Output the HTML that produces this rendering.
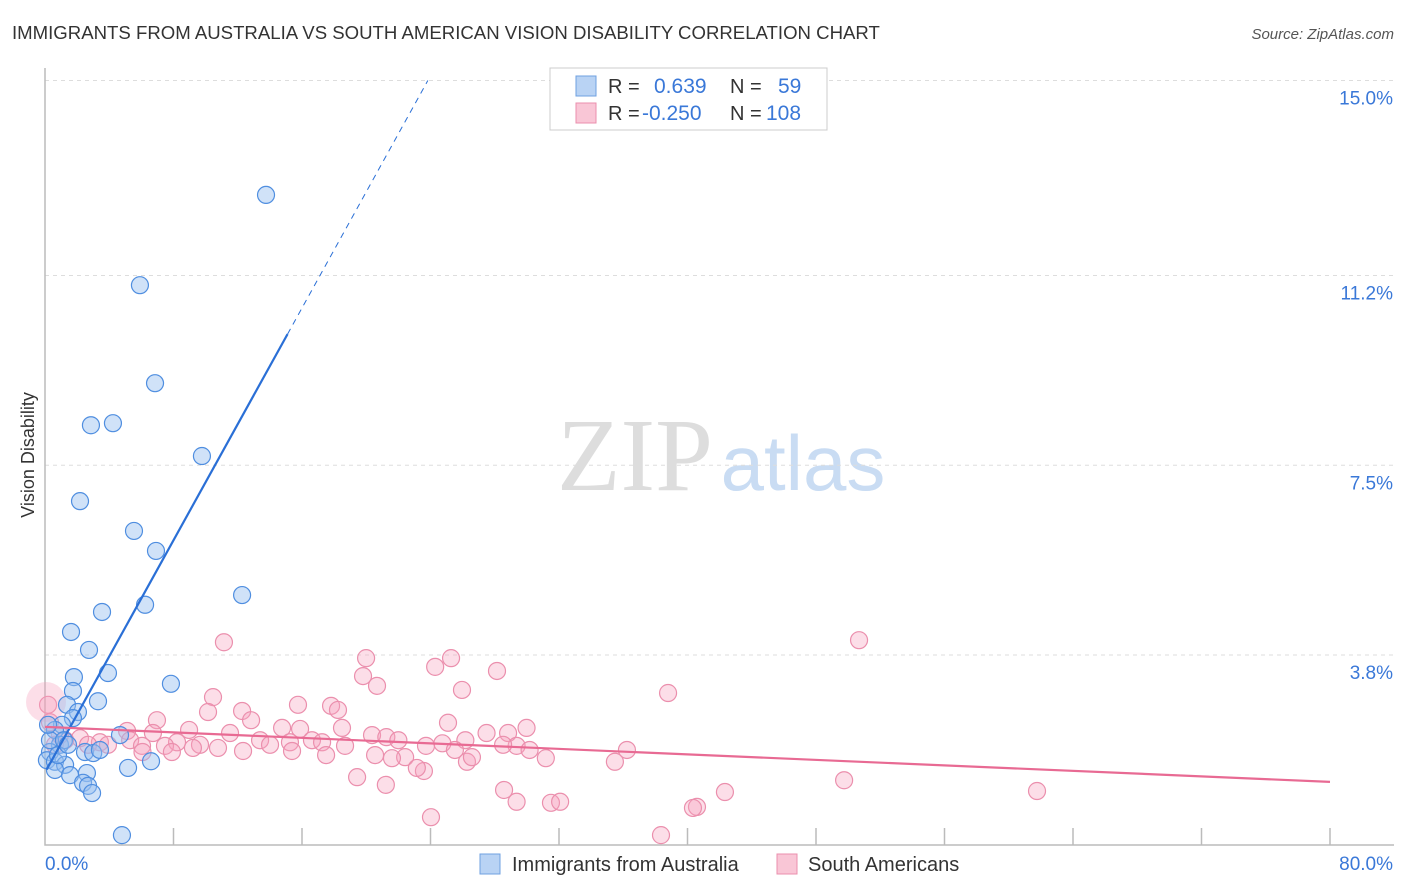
<!DOCTYPE html>
<html><head><meta charset="utf-8"><style>
body{margin:0;background:#fff;font-family:"Liberation Sans",sans-serif;overflow:hidden;}
#c{position:relative;width:1406px;height:892px;overflow:hidden;}
</style></head><body>
<div id="c">
<svg id="s" width="1406" height="892">
<text x="12" y="39" font-size="18.6" fill="#333">IMMIGRANTS FROM AUSTRALIA VS SOUTH AMERICAN VISION DISABILITY CORRELATION CHART</text>
<text x="1394" y="39" font-size="15" fill="#555" text-anchor="end" font-style="italic">Source: ZipAtlas.com</text>
<text x="635" y="490" font-size="104" fill="#ddd" font-family="Liberation Serif,serif" text-anchor="middle">ZIP</text>
<text x="803" y="490" font-size="78" fill="#c9dcf3" text-anchor="middle">atlas</text>
<text transform="translate(34,455) rotate(-90)" font-size="18" fill="#333" text-anchor="middle">Vision Disability</text>
<g id="grid"></g><g id="pts"></g><g id="lines"></g>
<g>
<rect x="550" y="68" width="277" height="62" fill="#fff" stroke="#ccc"/>
<rect x="576" y="76" width="20" height="20" fill="#b9d3f4" stroke="#6fa0e0"/>
<rect x="576" y="103" width="20" height="20" fill="#f9c6d6" stroke="#eb8fad"/>
<text x="608" y="93" font-size="20" fill="#333">R = </text><text x="654" y="93" font-size="21" fill="#3a78d8">0.639</text>
<text x="730" y="93" font-size="20" fill="#333">N = </text><text x="778" y="93" font-size="21" fill="#3a78d8">59</text>
<text x="608" y="120" font-size="20" fill="#333">R = </text><text x="642" y="120" font-size="21" fill="#3a78d8">-0.250</text>
<text x="730" y="120" font-size="20" fill="#333">N = </text><text x="766" y="120" font-size="21" fill="#3a78d8">108</text>
</g>
<g>
<rect x="480" y="854" width="20" height="20" fill="#b9d3f4" stroke="#6fa0e0"/>
<text x="512" y="871" font-size="20" fill="#333">Immigrants from Australia</text>
<rect x="777" y="854" width="20" height="20" fill="#f9c6d6" stroke="#eb8fad"/>
<text x="808" y="871" font-size="20" fill="#333">South Americans</text>
</g>
<text x="45" y="870" font-size="19" fill="#3a78d8">0.0%</text>
<text x="1393" y="870" font-size="19" fill="#3a78d8" text-anchor="end">80.0%</text>
</svg></div>
<script>
const yTicks=[15.0,11.2,7.5,3.8];
const yTickLabels=["15.0%","11.2%","7.5%","3.8%"];
const blueX=[13.76,5.91,6.85,2.86,4.23,9.77,2.18,5.54,6.91,12.27,6.23,3.55,1.62,2.74,3.92,1.80,7.84,1.74,3.30,1.37,2.05,1.74,1.06,0.62,4.67,0.93,0.31,2.49,3.00,0.12,0.62,1.25,6.60,5.17,0.62,1.56,2.61,2.37,2.68,2.93,4.79,0.31,1.18,0.19,0.81,1.43,3.42];
const blueY=[12.77,11.01,9.10,8.28,8.32,7.68,6.80,6.22,5.83,4.97,4.78,4.64,4.25,3.90,3.45,3.37,3.24,3.10,2.90,2.83,2.69,2.57,2.44,2.34,2.24,2.05,1.91,1.91,1.89,1.75,1.72,1.66,1.73,1.60,1.56,1.46,1.50,1.31,1.25,1.11,0.29,2.14,2.14,2.44,1.85,2.05,1.95];
const pinkX=[11.14,50.68,19.99,25.28,24.29,28.14,19.80,20.67,25.96,38.79,10.46,15.75,17.81,18.24,10.15,12.27,6.97,12.83,25.09,29.98,27.49,15.88,18.49,14.76,8.97,5.11,20.36,28.83,11.52,6.72,21.25,22.00,26.17,24.74,13.39,16.62,3.42,2.18,8.22,5.30,3.92,9.65,14.01,17.25,15.25,29.36,23.72,0.62,1.25,6.04,7.47,18.68,28.52,36.23,30.17,25.52,10.77,9.21,12.33,15.38,17.50,20.55,7.90,6.07,22.42,35.48,21.60,26.27,31.18,26.58,19.43,23.59,23.15,21.22,49.75,28.58,42.33,61.76,29.36,31.50,32.07,40.59,40.34,24.03,38.35,0.19,0.31,0.93,2.68];
const pinkY=[4.05,4.09,3.74,3.74,3.57,3.49,3.39,3.20,3.12,3.06,2.98,2.83,2.81,2.73,2.69,2.71,2.53,2.53,2.48,2.38,2.28,2.36,2.38,2.38,2.34,2.32,2.24,2.28,2.28,2.28,2.20,2.14,2.14,2.08,2.14,2.14,2.10,2.18,2.10,2.14,2.05,2.05,2.05,2.10,2.10,2.03,2.03,2.05,2.14,2.03,2.03,2.03,2.05,1.95,1.95,1.95,1.99,1.99,1.93,1.93,1.85,1.85,1.91,1.91,1.81,1.72,1.79,1.72,1.79,1.81,1.42,1.54,1.60,1.27,1.36,1.17,1.13,1.15,0.94,0.92,0.94,0.84,0.82,0.64,0.29,2.83,2.49,2.24,2.05];
const blueFit=[1.51,0.566];   // intercept, slope
const pinkFit=[2.40,-0.0134];
const xs=v=>45+v*1285/80, ys=v=>850-v*51.3;
const NS="http://www.w3.org/2000/svg";
function mk(parent,tag,attrs){const e=document.createElementNS(NS,tag);for(const k in attrs)e.setAttribute(k,attrs[k]);document.getElementById(parent).appendChild(e);return e;}
yTicks.forEach((t,i)=>{
 const l=mk('grid','line',{x1:45,x2:1394,y1:ys(t),y2:ys(t),stroke:'#ddd','stroke-dasharray':'4,4'});
 
 
 const tx=mk('grid','text',{x:1393,y:ys(t)+24,'font-size':19,fill:'#3a78d8','text-anchor':'end'});tx.textContent=yTickLabels[i];
 
 
});
const ax=mk('grid','path',{d:'M45 68V845H1394',fill:'none',stroke:'#bbb','stroke-width':1.5});


for(let i=1;i<=10;i++){const t=mk('grid','line',{x1:45+i*128.5,x2:45+i*128.5,y1:828,y2:845,stroke:'#bbb','stroke-width':1.5});
 
 }
pinkX.forEach((x,i)=>{const c=mk('pts','circle',{cx:xs(x),cy:ys(pinkY[i]),r:8.5,fill:'rgba(246,160,188,0.35)',stroke:'#eb8fad','stroke-width':1.2});
 
 });
const big=mk('pts','circle',{cx:46,cy:702,r:20,fill:'rgba(246,160,188,0.35)',stroke:'none'});


blueX.forEach((x,i)=>{const c=mk('pts','circle',{cx:xs(x),cy:ys(blueY[i]),r:8.5,fill:'rgba(150,190,240,0.45)',stroke:'#4f8ee0','stroke-width':1.2});
 
 });
const bf=v=>blueFit[0]+blueFit[1]*v;
const bEnd=(15-blueFit[0])/blueFit[1];
let l1=mk('lines','line',{x1:xs(0.1),y1:ys(bf(0.1)),x2:xs(15.1),y2:ys(bf(15.1)),stroke:'#2a6fd6','stroke-width':2.2});


let l2=mk('lines','line',{x1:xs(15.1),y1:ys(bf(15.1)),x2:xs(bEnd),y2:ys(bf(bEnd)),stroke:'#2a6fd6','stroke-width':1,'stroke-dasharray':'6,5'});


const pf=v=>pinkFit[0]+pinkFit[1]*v;
let l3=mk('lines','line',{x1:xs(0),y1:ys(pf(0)),x2:xs(80),y2:ys(pf(80)),stroke:'#e86a93','stroke-width':2.2});


</script>
</body></html>
